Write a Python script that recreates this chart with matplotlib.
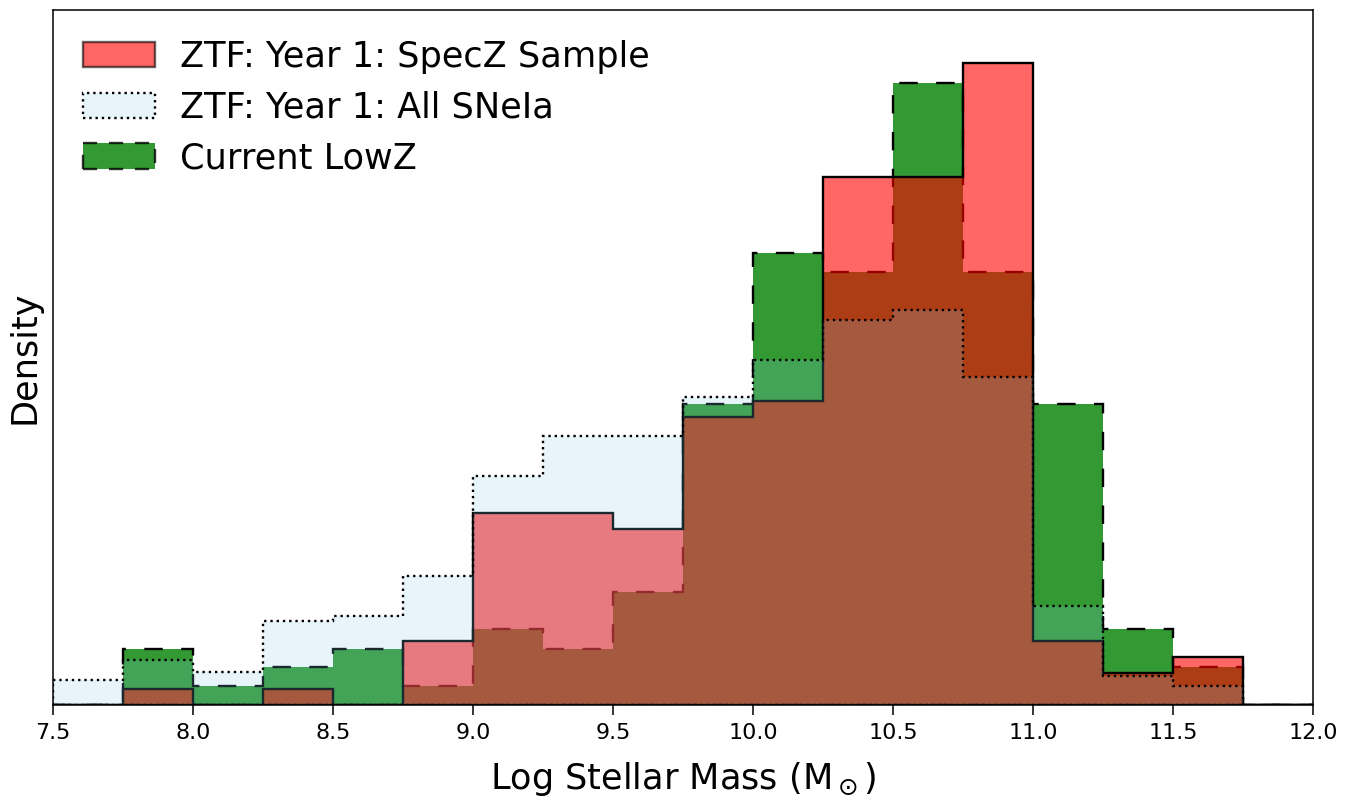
import matplotlib
matplotlib.use("Agg")
import matplotlib.pyplot as plt
from matplotlib.patches import Patch
import numpy as np

# ---------------- data (densities) ----------------
bin_edges = [7.5, 7.75, 8.0, 8.25, 8.5, 8.75, 9.0, 9.25, 9.5, 9.75,
             10.0, 10.25, 10.5, 10.75, 11.0, 11.25, 11.5, 11.75, 12.0]

specz = [0.000, 0.021, 0.000, 0.021, 0.000, 0.083, 0.249, 0.249, 0.228,
         0.373, 0.394, 0.684, 0.684, 0.832, 0.083, 0.041, 0.062, 0.000]

all_snia = [0.032, 0.058, 0.043, 0.109, 0.115, 0.167, 0.296, 0.348, 0.348,
            0.399, 0.447, 0.498, 0.511, 0.425, 0.128, 0.038, 0.025, 0.000]

lowz = [0.000, 0.073, 0.024, 0.049, 0.073, 0.024, 0.098, 0.073, 0.146,
        0.390, 0.585, 0.561, 0.805, 0.561, 0.390, 0.098, 0.049, 0.000]

series_labels = ["ZTF: Year 1: SpecZ Sample", "ZTF: Year 1: All SNeIa", "Current LowZ"]
xticks = [7.5, 8.0, 8.5, 9.0, 9.5, 10.0, 10.5, 11.0, 11.5, 12.0]

# ---------------- styles ----------------
red_fc = (1.0, 0.0, 0.0, 0.6)
blue_fc = (135/255, 206/255, 235/255, 0.2)
green_fc = (0.0, 128/255, 0.0, 0.8)
lw = 1.7
dash = (0, (7.8, 7.8))

fig = plt.figure(figsize=(13.54, 8.07), dpi=100)
ax = fig.add_axes([53/1354, 102/807, 1260/1354, 695/807])

edges = np.array(bin_edges)
centers = 0.5 * (edges[:-1] + edges[1:])

ax.hist(centers, bins=edges, weights=lowz, histtype="stepfilled",
        facecolor=green_fc, edgecolor="k", linestyle=dash, linewidth=lw)
ax.hist(centers, bins=edges, weights=specz, histtype="stepfilled",
        facecolor=red_fc, edgecolor="k", linestyle="-", linewidth=lw)
ax.hist(centers, bins=edges, weights=all_snia, histtype="stepfilled",
        facecolor=blue_fc, edgecolor="k", linestyle=":", linewidth=lw)

ax.set_xlim(7.5, 12.0)
ax.set_ylim(0, 0.9)
ax.set_xticks(xticks)
ax.set_xticklabels([f"{t:.1f}" for t in xticks])
ax.set_yticks([])
ax.tick_params(axis="x", labelsize=16, length=7, width=1.1, pad=6)
for s in ax.spines.values():
    s.set_linewidth(1.1)

ax.set_xlabel(r"Log Stellar Mass (M$_\odot$)", fontsize=25.3, labelpad=12)
ax.set_ylabel("Density", fontsize=25.3, labelpad=8)

handles = [
    Patch(facecolor=red_fc, edgecolor=(0, 0, 0, 0.6), linewidth=lw),
    Patch(facecolor=blue_fc, edgecolor="k", linestyle=":", linewidth=lw),
    Patch(facecolor=green_fc, edgecolor=(0, 0, 0, 0.8), linestyle=(0, (6, 5)), linewidth=lw),
]
ax.legend(handles, series_labels, loc="upper left", frameon=False, fontsize=25.3,
          handlelength=2.05, handleheight=0.75, handletextpad=0.72, labelspacing=0.48,
          borderaxespad=0.45)

fig.savefig("out.png", dpi=100)
